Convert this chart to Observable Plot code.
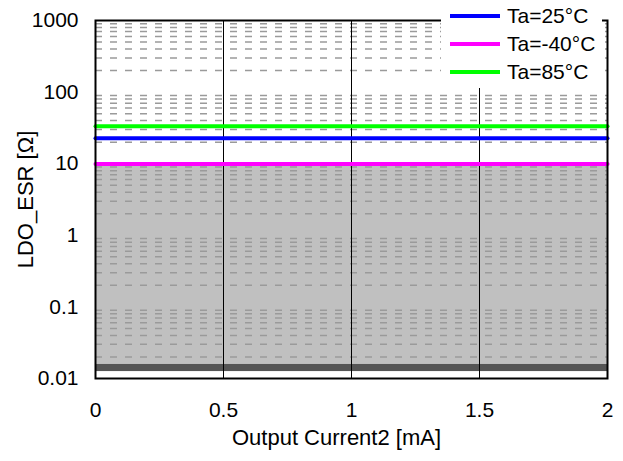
<!DOCTYPE html>
<html>
<head>
<meta charset="utf-8">
<script src="https://cdn.jsdelivr.net/npm/d3@7"></script>
<script src="https://cdn.jsdelivr.net/npm/@observablehq/plot@0.6"></script>
<style>
  body { margin: 0; background: #fff; }
  #wrap { position: relative; width: 623px; height: 461px; font-family: "Liberation Sans", Arial, sans-serif; }
  #legend { position: absolute; left: 441px; top: 0px; width: 161px; height: 88px; background: #fff; }
  .item { position: absolute; left: 9px; height: 28px; display: flex; align-items: center; }
  .swatch { width: 50px; height: 4px; margin-right: 7px; }
  .lbl { font-size: 21px; color: #000; }
</style>
</head>
<body>
<div id="wrap"></div>
<script>
// ---- data ----
const current = [0, 0.5, 1, 1.5, 2];
const esr25 = [22.7, 22.7, 22.7, 22.7, 22.7];
const esrM40 = [9.9, 9.9, 9.9, 9.9, 9.9];
const esr85 = [33.4, 33.4, 33.4, 33.4, 33.4];
const seriesNames = ["Ta=25°C", "Ta=-40°C", "Ta=85°C"];
const seriesColors = ["#0000ff", "#ff00ff", "#00ff00"];
const xTicks = [0, 0.5, 1, 1.5, 2];
const yTicks = [0.01, 0.1, 1, 10, 100, 1000];
const yTickLabels = ["0.01", "0.1", "1", "10", "100", "1000"];
const shadedRegion = [0.0157, 9.8];   // light gray zone
const darkBand = [0.0125, 0.0157];    // dark striped band
const minorMultipliers = [2, 3, 4, 5, 6, 7, 8, 9];
const decades = [0.01, 0.1, 1, 10, 100];

const minorGrid = decades.flatMap(d => minorMultipliers.map(m => d * m));
const series = [esr25, esrM40, esr85];
const rows = series.flatMap((vals, i) => current.map((x, j) => ({x, y: vals[j], s: seriesNames[i]})));

const font = "Liberation Sans, Arial, sans-serif";

const chart = Plot.plot({
  width: 623,
  height: 461,
  marginLeft: 95,
  marginRight: 16,
  marginTop: 20,
  marginBottom: 83,
  style: {fontFamily: font, fontSize: "21px", background: "#fff", color: "#000"},
  x: {domain: [0, 2], ticks: xTicks, tickFormat: d => String(d), tickSize: 0, tickPadding: 24, label: null},
  y: {type: "log", domain: [0.01, 1000], ticks: yTicks, tickFormat: d => yTickLabels[yTicks.indexOf(d)] ?? "", tickSize: 0, tickPadding: 17, label: null},
  color: {domain: seriesNames, range: seriesColors},
  marks: [
    Plot.rect([shadedRegion], {x1: 0, x2: 2, y1: d => d[0], y2: d => d[1], fill: "#c0c0c0"}),
    Plot.rect([darkBand], {x1: 0, x2: 2, y1: d => d[0], y2: d => d[1], fill: "#555555"}),
    Plot.ruleY(minorGrid, {stroke: "#9a9a9a", strokeWidth: 1.5, strokeDasharray: "7,8"}),
    Plot.ruleX([0.5, 1, 1.5], {stroke: "#000", strokeWidth: 1}),
    Plot.line(rows, {x: "x", y: "y", z: "s", stroke: "s", strokeWidth: 4}),
    Plot.frame({stroke: "#000", strokeWidth: 2}),
    Plot.text(["Output Current2 [mA]"], {frameAnchor: "bottom", dx: -15, dy: 66, fontSize: 22, fill: "#000", style: "letter-spacing:1.9px"}),
    Plot.text(["LDO_ESR [Ω]"], {frameAnchor: "left", dx: -70, rotate: -90, textAnchor: "middle", fontSize: 22, fill: "#000", style: "letter-spacing:1px"})
  ]
});

const wrap = document.getElementById("wrap");
wrap.appendChild(chart);

const legend = document.createElement("div");
legend.id = "legend";
seriesNames.forEach((name, i) => {
  const item = document.createElement("div");
  item.className = "item";
  item.style.top = (2 + i * 28) + "px";
  const sw = document.createElement("div");
  sw.className = "swatch";
  sw.style.background = seriesColors[i];
  const lb = document.createElement("span");
  lb.className = "lbl";
  lb.textContent = name;
  item.appendChild(sw);
  item.appendChild(lb);
  legend.appendChild(item);
});
wrap.appendChild(legend);
</script>
</body>
</html>
